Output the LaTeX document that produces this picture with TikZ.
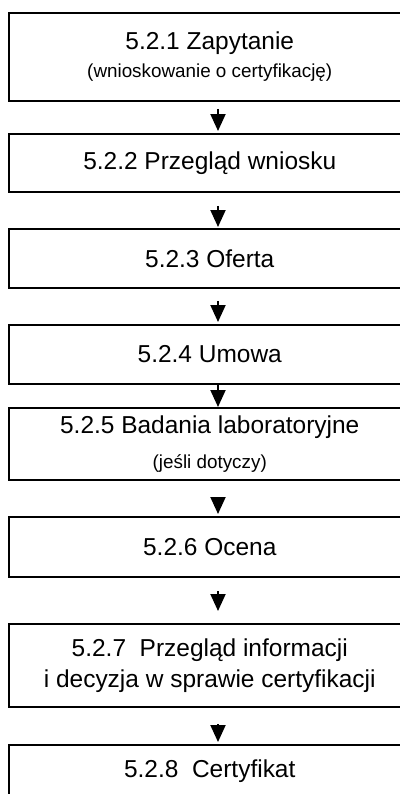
\documentclass[tikz,border=0pt]{standalone}
\usepackage{fontspec}
\setmainfont{Liberation Sans}
\usetikzlibrary{arrows.meta}
\newcommand{\bigtxt}{\fontsize{17.4}{21}\selectfont}
\newcommand{\smalltxt}{\fontsize{13.4}{16}\selectfont}
\begin{document}
\begin{tikzpicture}[x=0.025cm,y=-0.025cm]
	\tikzstyle{every node}+=[inner sep=0pt]
	\tikzstyle{stage}=[draw=black, line width=1.4pt, minimum width=10.0125cm, align=center, font=\bigtxt]
	\tikzstyle{flow}=[line width=1.4pt, -{Triangle[length=0.425cm,width=0.375cm]}]
	\useasboundingbox (0,0) rectangle (400,794);
	\clip (0,0) rectangle (400,794);
	\coordinate (ax) at (218,0);
	\node [stage, minimum height=2.2cm] (s1) at (209.75,57) {5.2.1 Zapytanie\\[-1pt]{\smalltxt (wnioskowanie o certyfikację)}};
	\node [stage, minimum height=1.45cm] (s2) at (209.75,163) {5.2.2 Przegląd wniosku};
	\node [stage, minimum height=1.475cm] (s3) at (209.75,258.5) {5.2.3 Oferta};
	\node [stage, minimum height=1.475cm] (s4) at (209.75,354.5) {5.2.4 Umowa};
	\node [stage, minimum height=1.8cm] (s5) at (209.75,444) {5.2.5 Badania laboratoryjne\\[3.8pt]{\smalltxt (jeśli dotyczy)}};
	\node [stage, minimum height=1.5cm] (s6) at (209.75,547) {5.2.6 Ocena};
	\node [stage, minimum height=2.075cm] (s7) at (209.75,665.5) {5.2.7\ \ Przegląd informacji\\[1pt]i decyzja w sprawie certyfikacji};
	\node [stage, minimum height=1.3cm] (s8) at (209.75,771) {5.2.8\ \ Certyfikat};
	\draw [flow, shorten <=0.175cm, shorten >=0.05cm] (s1.south -| ax) -- (s2.north -| ax);
	\draw [flow, shorten <=0.325cm, shorten >=0.025cm] (s2.south -| ax) -- (s3.north -| ax);
	\draw [flow, shorten <=0.3cm, shorten >=0.05cm] (s3.south -| ax) -- (s4.north -| ax);
	\draw [flow] (s4.south -| ax) -- (s5.north -| ax);
	\draw [flow, shorten <=0.425cm, shorten >=0.05cm] (s5.south -| ax) -- (s6.north -| ax);
	\draw [flow, shorten <=0.325cm, shorten >=0.3cm] (s6.south -| ax) -- (s7.north -| ax);
	\draw [flow, shorten <=0.4cm, shorten >=0.05cm] (s7.south -| ax) -- (s8.north -| ax);
\end{tikzpicture}
\end{document}
